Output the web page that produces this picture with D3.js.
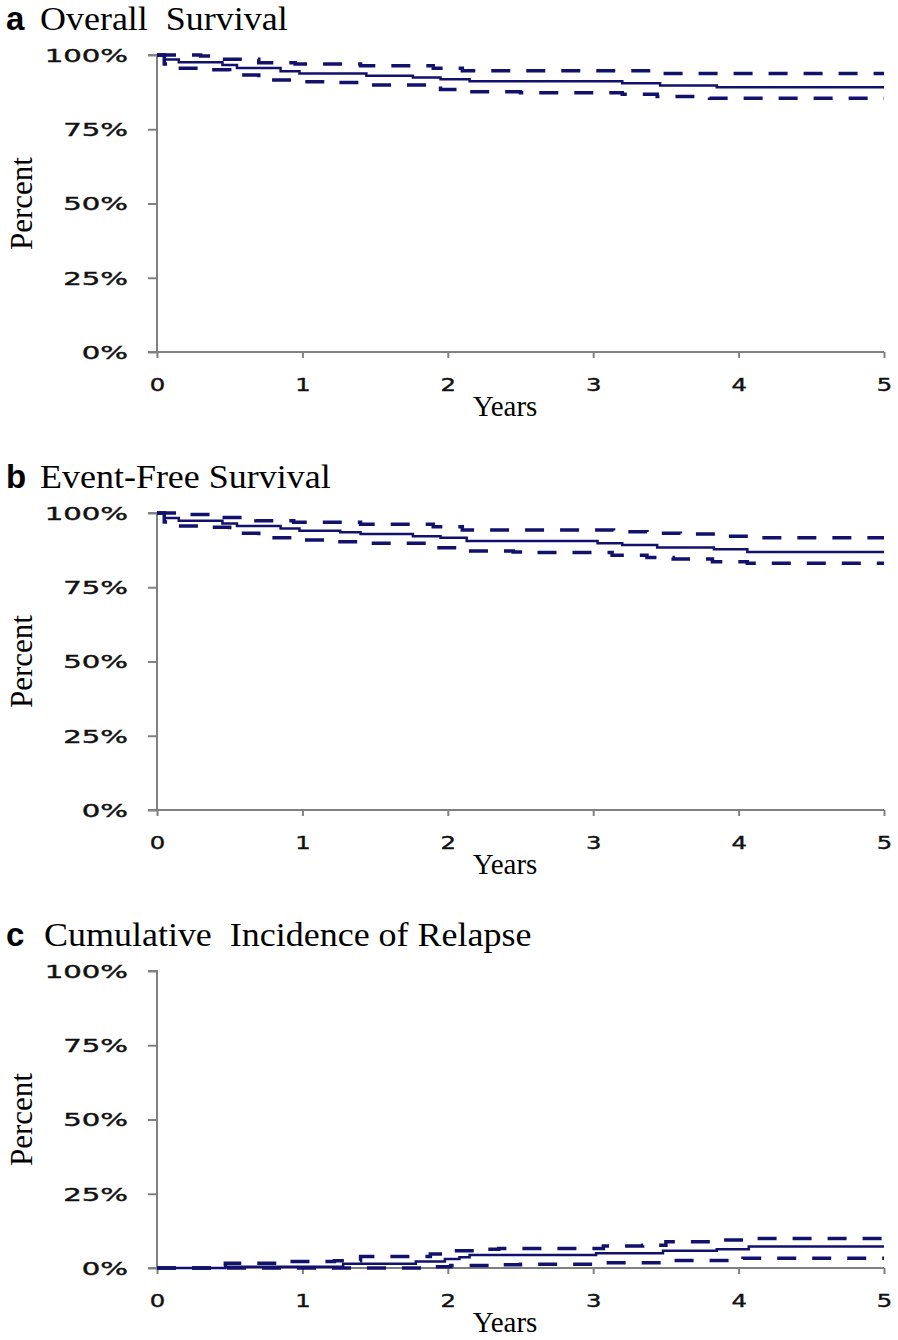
<!DOCTYPE html>
<html>
<head>
<meta charset="utf-8">
<script src="https://cdn.jsdelivr.net/npm/d3@7"></script>
<style>
  html, body { margin: 0; padding: 0; background: #fff; }
  svg { display: block; }
</style>
</head>
<body>
<svg id="chart" width="898" height="1340"></svg>
<script>
// ---------- DATA (years, percent) ----------
const panelLetters = ["a", "b", "c"];
const panelTitles = ["Overall  Survival", "Event-Free Survival", "Cumulative  Incidence of Relapse"];
const yTickValues = [0, 25, 50, 75, 100];
const yTickLabels = ["0%", "25%", "50%", "75%", "100%"];
const xTickValues = [0, 1, 2, 3, 4, 5];
const xTickLabels = ["0", "1", "2", "3", "4", "5"];
const xAxisLabel = "Years";
const yAxisLabel = "Percent";

const osEstimate = [[0,100],[0.05,98.5],[0.15,97.6],[0.45,96.6],[0.55,95.6],[0.85,94.5],[0.98,93.8],[1.44,93.0],[1.76,92.4],[1.95,91.8],[2.15,91.2],[3.2,90.5],[3.46,89.7],[3.85,89.1],[5,89.1]];
const osUpper = [[0,100],[0.3,99.7],[0.45,98.6],[0.7,97.4],[0.95,97.0],[1.4,96.4],[1.9,95.5],[2.1,94.7],[3.44,93.8],[5,93.8]];
const osLower = [[0,100],[0.05,97],[0.12,95.5],[0.3,95.0],[0.5,93.3],[0.7,91.6],[0.95,91.0],[1.2,90.7],[1.42,89.9],[1.95,88.4],[2.1,87.6],[2.5,87.3],[3.2,86.8],[3.44,86.0],[3.8,85.4],[5,85.4]];

const efsEstimate = [[0,100],[0.05,98.3],[0.15,97.4],[0.45,96.5],[0.55,95.6],[0.85,94.8],[0.98,94.0],[1.26,93.5],[1.4,92.9],[1.76,92.2],[1.95,91.7],[2.13,90.6],[3.03,89.8],[3.2,89.2],[3.44,88.4],[3.83,87.8],[4.06,86.9],[5,86.9]];
const efsUpper = [[0,100],[0.15,99.5],[0.45,98.5],[0.68,97.4],[0.94,96.9],[1.4,96.2],[1.9,95.4],[2.1,94.3],[3.14,93.7],[3.37,93.2],[3.6,92.9],[3.86,92.2],[4.1,91.7],[5,91.7]];
const efsLower = [[0,100],[0.05,97],[0.1,95.6],[0.3,95.2],[0.5,93.2],[0.7,91.7],[0.95,90.9],[1.2,90.3],[1.42,89.8],[1.92,88.3],[2.1,87.2],[2.45,86.9],[2.6,86.7],[3.13,85.8],[3.37,85.0],[3.55,84.5],[3.82,83.6],[4.06,83.1],[5,83.1]];

const cirEstimate = [[0,0],[0.47,0.4],[1.28,1.4],[1.78,2.2],[1.98,3.0],[2.08,3.6],[2.15,4.4],[3.02,5.0],[3.48,5.8],[3.85,6.3],[4.07,7.2],[5,7.2]];
const cirUpper = [[0,0],[0.47,1.6],[0.9,2.2],[1.22,2.4],[1.4,3.9],[1.88,4.7],[2.06,5.8],[2.25,6.3],[2.35,6.6],[3.07,7.4],[3.34,7.7],[3.5,8.8],[3.82,9.4],[4.05,9.9],[5,9.9]];
const cirLower = [[0,0],[1.9,0.4],[2.02,0.8],[2.3,1.1],[2.5,1.3],[3.02,1.8],[3.53,2.5],[4.03,3.3],[5,3.3]];

const panelEstimates = [osEstimate, efsEstimate, cirEstimate];
const panelUppers = [osUpper, efsUpper, cirUpper];
const panelLowers = [osLower, efsLower, cirLower];

// ---------- LAYOUT ----------
const svg = d3.select("#chart");
const panelTop0 = 55, panelHeight = 297, panelStep = 458;
const left = 157, right = 884;
const lineColor = "#12116b";
const axisColor = "#808080";

const x = d3.scaleLinear().domain([0, 5]).range([left, right]);

function stretch(sel, factor) {
  sel.each(function () {
    const w = this.getComputedTextLength();
    d3.select(this).attr("textLength", w * factor).attr("lengthAdjust", "spacingAndGlyphs");
  });
}

panelLetters.forEach((letter, i) => {
  const top = panelTop0 + i * panelStep;
  const bottom = top + panelHeight;
  const y = d3.scaleLinear().domain([0, 100]).range([bottom, top]);
  const g = svg.append("g");

  // Title
  g.append("text")
    .attr("x", 6).attr("y", top - 25)
    .attr("font-family", "Liberation Sans, Arial, sans-serif")
    .attr("font-weight", "bold").attr("font-size", 33)
    .attr("fill", "#000").text(letter);
  g.append("text")
    .attr("x", i === 2 ? 44 : 40).attr("y", top - 25)
    .attr("font-family", "Liberation Serif, Times New Roman, serif")
    .attr("font-size", 33).attr("fill", "#000")
    .attr("xml:space", "preserve")
    .style("white-space", "pre")
    .text(panelTitles[i])
    .call(stretch, 1.09);

  // Y axis
  const yAxis = d3.axisLeft(y).tickValues(yTickValues)
    .tickFormat((d, k) => yTickLabels[k]).tickSize(9).tickPadding(20);
  const ya = g.append("g").attr("transform", `translate(${left},0)`).call(yAxis);
  ya.select(".domain").attr("stroke", axisColor).attr("stroke-width", 2).attr("d", `M-9,${top}H0V${bottom}`);
  ya.selectAll(".tick line").attr("stroke", axisColor).attr("stroke-width", 2);
  ya.selectAll(".tick text")
    .attr("font-family", "DejaVu Sans, Verdana, sans-serif")
    .attr("font-size", 18).attr("fill", "#111").attr("dy", "0.36em")
    .attr("stroke", "#111").attr("stroke-width", 0.4)
    .call(stretch, 1.62);

  // X axis
  const xAxis = d3.axisBottom(x).tickValues(xTickValues)
    .tickFormat((d, k) => xTickLabels[k]).tickSize(6).tickPadding(20);
  const xa = g.append("g").attr("transform", `translate(0,${bottom})`).call(xAxis);
  xa.select(".domain").attr("stroke", axisColor).attr("stroke-width", 2).attr("d", `M${left - 9},0H${right}`);
  xa.selectAll(".tick line").attr("stroke", axisColor).attr("stroke-width", 2);
  xa.selectAll(".tick text")
    .attr("font-family", "DejaVu Sans, Verdana, sans-serif")
    .attr("font-size", 18).attr("fill", "#111")
    .attr("stroke", "#111").attr("stroke-width", 0.4)
    .call(stretch, 1.35);

  // Axis titles
  g.append("text")
    .attr("x", 505).attr("y", bottom + 64)
    .attr("text-anchor", "middle")
    .attr("font-family", "Liberation Serif, Times New Roman, serif")
    .attr("font-size", 29).attr("fill", "#000")
    .text(xAxisLabel);
  g.append("text")
    .attr("transform", `translate(32,${(top + bottom) / 2}) rotate(-90)`)
    .attr("text-anchor", "middle")
    .attr("font-family", "Liberation Serif, Times New Roman, serif")
    .attr("font-size", 31).attr("fill", "#000")
    .text(yAxisLabel);

  // Curves
  const line = d3.line().x(d => x(d[0])).y(d => y(d[1])).curve(d3.curveStepAfter);
  [panelUppers[i], panelLowers[i]].forEach(ci => {
    g.append("path").datum(ci)
      .attr("d", line).attr("fill", "none")
      .attr("stroke", lineColor).attr("stroke-width", 3.5)
      .attr("stroke-dasharray", "19,16");
  });
  g.append("path").datum(panelEstimates[i])
    .attr("d", line).attr("fill", "none")
    .attr("stroke", lineColor).attr("stroke-width", 2.5);
});
</script>
</body>
</html>
